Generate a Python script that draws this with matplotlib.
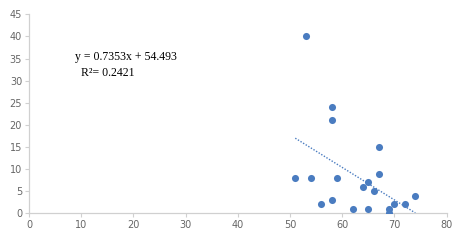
import matplotlib
matplotlib.use('Agg')
import matplotlib.pyplot as plt
import numpy as np

# data points
x_vals = [51, 54, 59, 56, 58, 62, 65, 64, 65, 66, 67, 67, 69, 69, 70, 72, 74, 58, 53, 58]
y_vals = [8, 8, 8, 2, 3, 1, 1, 6, 7, 5, 9, 15, 1, 0, 2, 2, 4, 21, 40, 24]

# linear trendline as printed on the chart (line slopes down)
slope = -0.7353
intercept = 54.493
eq_text = 'y = 0.7353x + 54.493'
r2_text = 'R²= 0.2421'

x_ticks = [0, 10, 20, 30, 40, 50, 60, 70, 80]
y_ticks = [0, 5, 10, 15, 20, 25, 30, 35, 40, 45]

blue = '#4a7cc0'
grey = '#666666'
axis_grey = '#d0d0d0'

fig = plt.figure(figsize=(4.65, 2.44), dpi=100)
ax = fig.add_axes([0.0624, 0.1258, 0.8982, 0.8152])

ax.scatter(x_vals, y_vals, s=26, color=blue, zorder=3, linewidths=0)

tx = np.array([min(x_vals), max(x_vals)])
ax.plot(tx, slope * tx + intercept, linestyle=(0, (1, 1.2)), color=blue, linewidth=1.0, zorder=2)

ax.set_xlim(0, 80)
ax.set_ylim(0, 45)
ax.set_xticks(x_ticks)
ax.set_yticks(y_ticks)

for side in ['top', 'right']:
    ax.spines[side].set_visible(False)
for side in ['left', 'bottom']:
    ax.spines[side].set_color(axis_grey)
    ax.spines[side].set_linewidth(0.9)

ax.tick_params(axis='both', colors=axis_grey, labelcolor=grey, labelsize=7,
               length=3, width=0.8, direction='out', pad=2)

# trendline label
fig.text(75 / 465, 1 - 57 / 244, eq_text, fontsize=8.5, family='Liberation Serif',
         va='center', ha='left')
fig.text(80.5 / 465, 1 - 73 / 244, r2_text, fontsize=8.5, family='Liberation Serif',
         va='center', ha='left')

fig.savefig('out.png', dpi=100)
